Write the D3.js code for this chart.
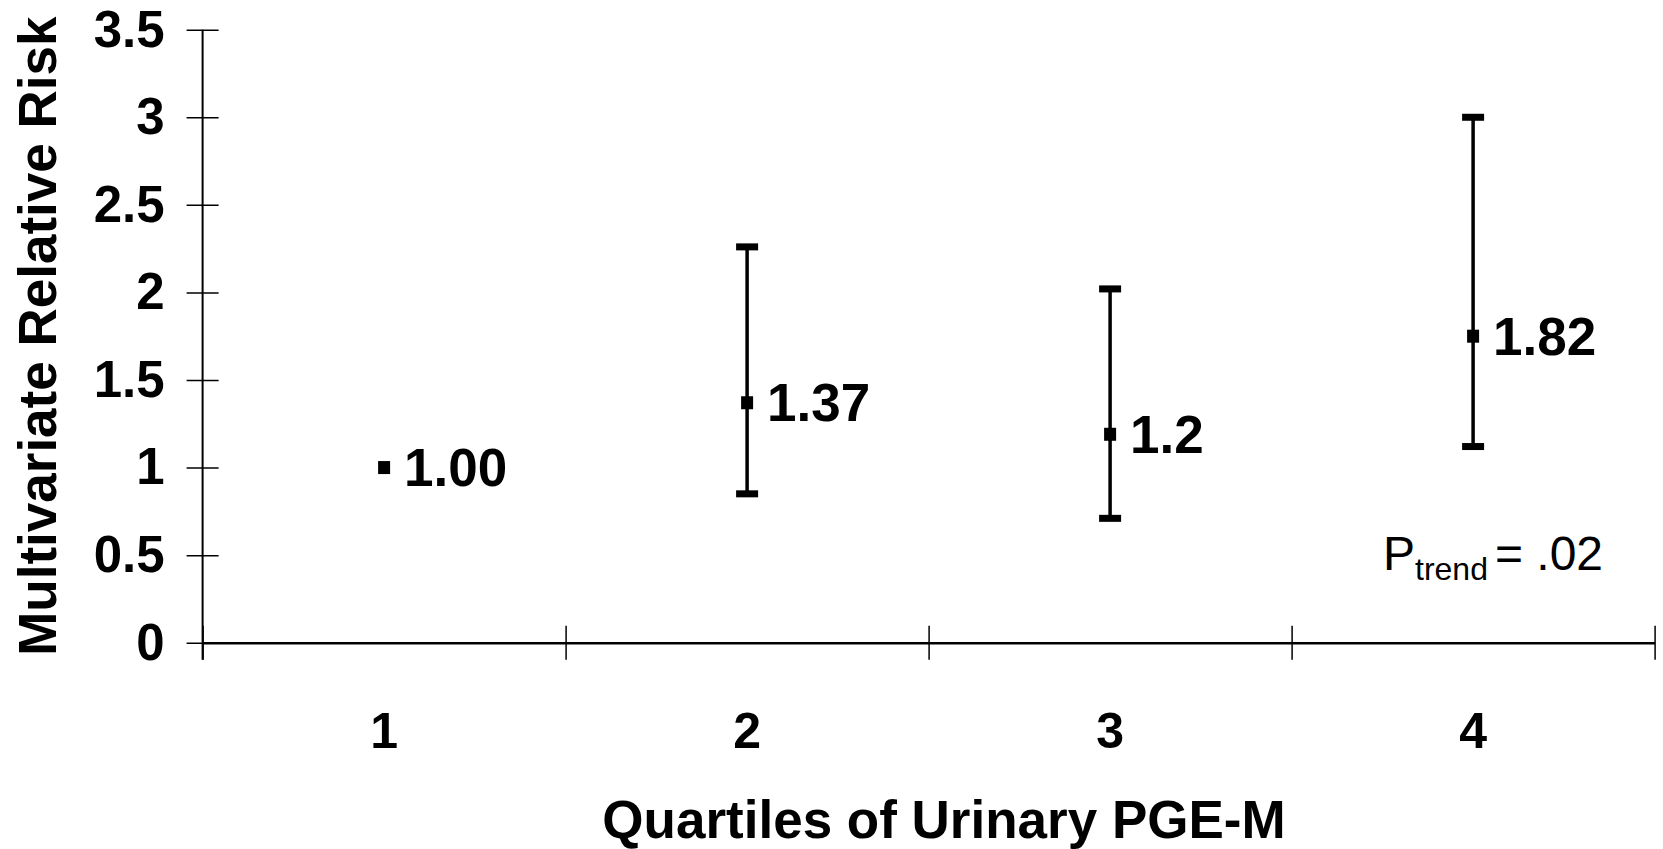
<!DOCTYPE html>
<html>
<head>
<meta charset="utf-8">
<script src="https://cdnjs.cloudflare.com/ajax/libs/d3/7.8.5/d3.min.js"></script>
<style>
	body { margin: 0; background: #fff; }
	svg { display: block; font-family: "Liberation Sans", Arial, sans-serif; }
</style>
</head>
<body>
<script>
// values
var quartiles = ["1", "2", "3", "4"];
var riskPoint = [1.00, 1.37, 1.19, 1.75];   // where the squares sit
var riskLabel = ["1.00", "1.37", "1.2", "1.82"];   // what the labels say
var ciLow = [null, 0.85, 0.71, 1.12];
var ciHigh = [null, 2.26, 2.02, 3.00];
var yTicks = [0, 0.5, 1, 1.5, 2, 2.5, 3, 3.5];
var yTickLabels = ["0", "0.5", "1", "1.5", "2", "2.5", "3", "3.5"];
var edgeTicks = [0, 1, 2, 3, 4];
var pTrend = ".02";

// note: "top" is taken by window.top, so plot edges get their own names
var W = 1663, H = 849;
var plotL = 202.6, plotR = 1654.6, plotT = 29.7, plotB = 642.7;

var svg = d3.select("body").append("svg")
			.attr("width", W)
			.attr("height", H);

svg.append("rect")
	.attr("width", W)
	.attr("height", H)
	.attr("fill", "#fff");

var x = d3.scaleBand().domain(quartiles).range([plotL, plotR]).padding(0);
var xEdge = d3.scaleLinear().domain([0, 4]).range([plotL, plotR]);
var y = d3.scaleLinear().domain([0, 3.5]).range([plotB, plotT]);

// y axis, ticks cross the line
var yAxis = svg.append("g")
			.attr("transform", "translate(" + plotL + ",0)")
			.call(d3.axisLeft(y)
				.tickValues(yTicks)
				.tickFormat(function(d, i){ return yTickLabels[i]; })
				.tickSize(16)
				.tickSizeOuter(0)
				.tickPadding(22));
yAxis.select(".domain").remove();
yAxis.selectAll(".tick line")
	.attr("x1", 16)
	.attr("stroke", "#000")
	.attr("stroke-width", 1.5);
yAxis.selectAll(".tick text")
	.attr("fill", "#000")
	.attr("font-family", "Liberation Sans, Arial, sans-serif")
	.attr("font-weight", "bold")
	.attr("font-size", 51);

// x axis: ticks on the quartile edges, no labels
var xAxis = svg.append("g")
			.attr("transform", "translate(0," + plotB + ")")
			.call(d3.axisBottom(xEdge)
				.tickValues(edgeTicks)
				.tickFormat("")
				.tickSize(17)
				.tickSizeOuter(0));
xAxis.select(".domain")
	.attr("stroke", "#000")
	.attr("stroke-width", 2.5);
xAxis.selectAll(".tick line")
	.attr("y1", -17)
	.attr("stroke", "#000")
	.attr("stroke-width", 1.5);

// vertical axis line, runs a little under the x axis
svg.append("line")
	.attr("x1", plotL)
	.attr("x2", plotL)
	.attr("y1", y(3.5))
	.attr("y2", plotB + 17)
	.attr("stroke", "#000")
	.attr("stroke-width", 2);

svg.selectAll(".qlab")
	.data(quartiles)
	.enter().append("text")
	.attr("class", "qlab")
	.attr("x", function(d){ return x(d) + x.bandwidth() / 2; })
	.attr("y", 730)
	.attr("dy", ".35em")
	.attr("text-anchor", "middle")
	.attr("font-weight", "bold")
	.attr("font-size", 50)
	.text(function(d){ return d; });

// error bars
for(var i = 0; i < quartiles.length; i++){
	var cx = x(quartiles[i]) + x.bandwidth() / 2;
	if(ciLow[i] != null){
		svg.append("line")
			.attr("x1", cx)
			.attr("x2", cx)
			.attr("y1", y(ciLow[i]))
			.attr("y2", y(ciHigh[i]))
			.attr("stroke", "#000")
			.attr("stroke-width", 3.5);
		[ciLow[i], ciHigh[i]].forEach(function(v){
			svg.append("rect")
				.attr("x", cx - 11)
				.attr("y", y(v) - 3.5)
				.attr("width", 22)
				.attr("height", 7)
				.attr("fill", "#000");
		});
	}
	svg.append("rect")
		.attr("x", cx - 6)
		.attr("y", y(riskPoint[i]) - 6.5)
		.attr("width", 12)
		.attr("height", 13)
		.attr("fill", "#000");

	svg.append("text")
		.attr("x", cx + 20)
		.attr("y", y(riskPoint[i]))
		.attr("dy", ".35em")
		.attr("font-weight", "bold")
		.attr("font-size", 53)
		.text(riskLabel[i]);
}

// axis titles
svg.append("text")
	.attr("transform", "translate(37," + ((plotT + plotB) / 2) + ") rotate(-90)")
	.attr("dy", ".35em")
	.attr("text-anchor", "middle")
	.attr("font-weight", "bold")
	.attr("font-size", 53)
	.text("Multivariate Relative Risk");

svg.append("text")
	.attr("x", 944)
	.attr("y", 838)
	.attr("text-anchor", "middle")
	.attr("font-weight", "bold")
	.attr("font-size", 53)
	.text("Quartiles of Urinary PGE-M");

// p for trend
var pt = svg.append("text")
	.attr("x", 1383)
	.attr("y", 570)
	.attr("font-size", 48);
pt.append("tspan").text("P");
pt.append("tspan")
	.attr("font-size", 32)
	.attr("dy", 10)
	.text("trend");
pt.append("tspan")
	.attr("dy", -10)
	.attr("dx", 7)
	.text("= " + pTrend);
</script>
</body>
</html>
